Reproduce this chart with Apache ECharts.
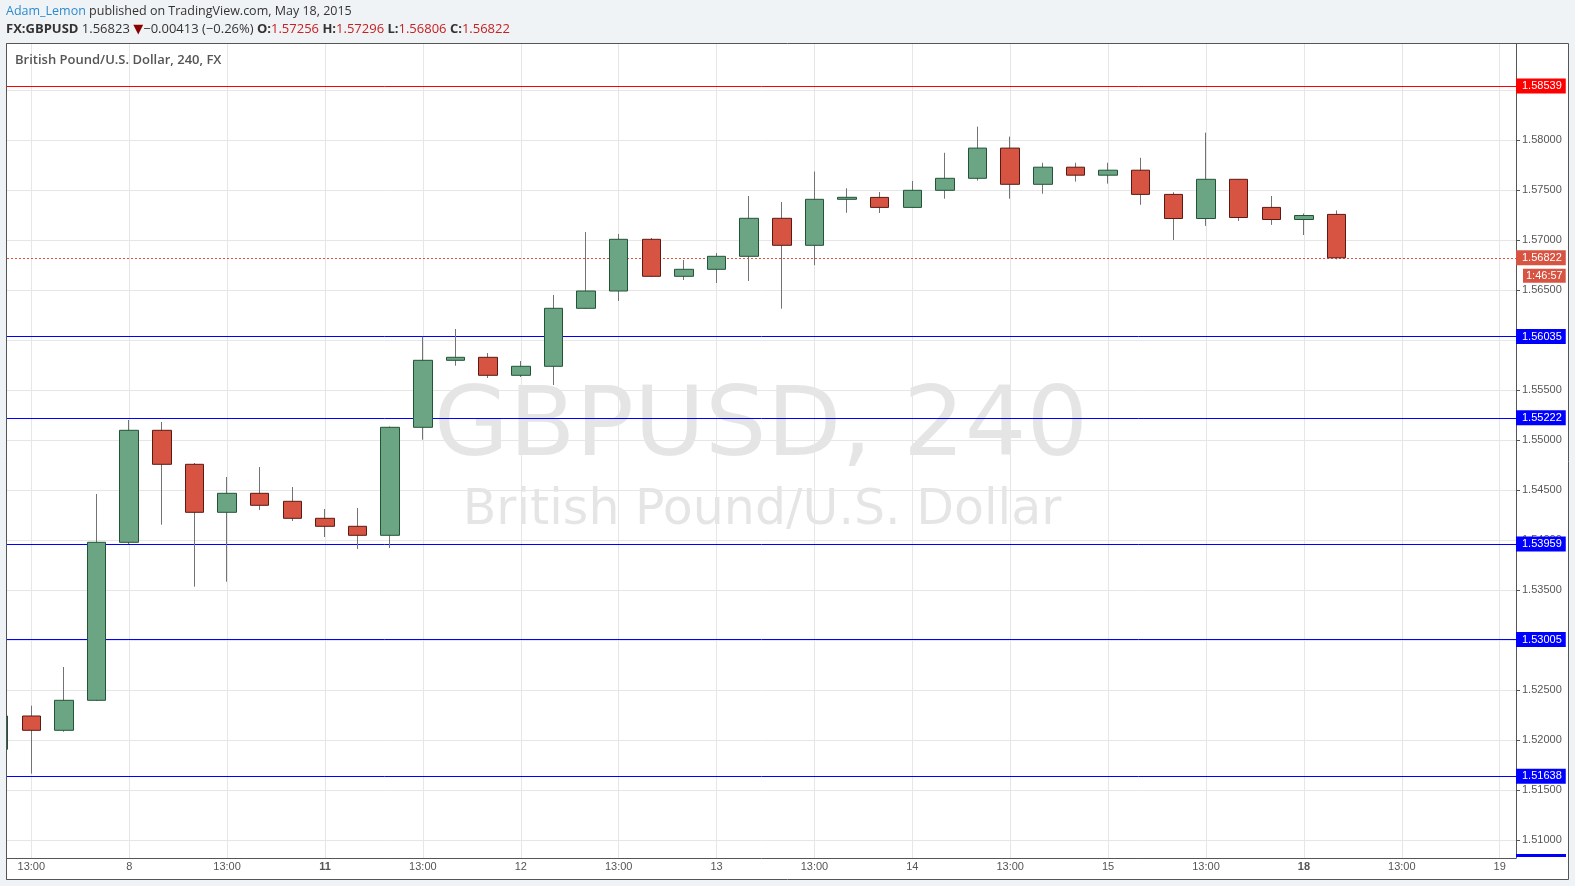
<!DOCTYPE html>
<html>
<head>
<meta charset="utf-8">
<script src="https://cdn.jsdelivr.net/npm/echarts@6/dist/echarts.min.js"></script>
<style>
html,body{margin:0;padding:0;background:#f0f3f6;}
#c{width:1575px;height:886px;}
</style>
</head>
<body>
<div id="c"></div>
<script>
// ---- DATA (4-hour bars, FX:GBPUSD) ----
const times = [
  '2015-05-07 09:00','2015-05-07 13:00','2015-05-07 17:00','2015-05-07 21:00',
  '2015-05-08 01:00','2015-05-08 05:00','2015-05-08 09:00','2015-05-08 13:00','2015-05-08 17:00','2015-05-08 21:00',
  '2015-05-11 01:00','2015-05-11 05:00','2015-05-11 09:00','2015-05-11 13:00','2015-05-11 17:00','2015-05-11 21:00',
  '2015-05-12 01:00','2015-05-12 05:00','2015-05-12 09:00','2015-05-12 13:00','2015-05-12 17:00','2015-05-12 21:00',
  '2015-05-13 01:00','2015-05-13 05:00','2015-05-13 09:00','2015-05-13 13:00','2015-05-13 17:00','2015-05-13 21:00',
  '2015-05-14 01:00','2015-05-14 05:00','2015-05-14 09:00','2015-05-14 13:00','2015-05-14 17:00','2015-05-14 21:00',
  '2015-05-15 01:00','2015-05-15 05:00','2015-05-15 09:00','2015-05-15 13:00','2015-05-15 17:00','2015-05-15 21:00',
  '2015-05-18 01:00','2015-05-18 05:00'
];
const open = [
  1.51907,1.52240,1.52097,1.52397,
  1.53977,1.55097,1.54757,1.54277,1.54467,1.54387,
  1.54217,1.54137,1.54047,1.55127,1.55797,1.55827,
  1.55647,1.55737,1.56317,1.56490,1.57007,1.56637,
  1.56707,1.56837,1.57217,1.56947,1.57407,1.57426,
  1.57326,1.57497,1.57617,1.57919,1.57557,1.57728,
  1.57648,1.57698,1.57456,1.57215,1.57607,1.57326,
  1.57205,1.57256
];
const close = [
  1.52240,1.52097,1.52397,1.53977,
  1.55097,1.54757,1.54277,1.54467,1.54347,1.54217,
  1.54137,1.54047,1.55127,1.55797,1.55827,1.55647,
  1.55737,1.56317,1.56490,1.57007,1.56637,1.56707,
  1.56837,1.57217,1.56947,1.57407,1.57427,1.57326,
  1.57497,1.57617,1.57919,1.57557,1.57728,1.57648,
  1.57698,1.57456,1.57215,1.57607,1.57225,1.57205,
  1.57245,1.56822
];
const low = [
  1.51880,1.51663,1.52083,1.52390,
  1.53960,1.54153,1.53533,1.53583,1.54300,1.54190,
  1.54030,1.53910,1.53920,1.55003,1.55743,1.55620,
  1.55630,1.55550,1.56310,1.56390,1.56630,1.56600,
  1.56570,1.56590,1.56313,1.56748,1.57272,1.57270,
  1.57320,1.57413,1.57594,1.57413,1.57463,1.57584,
  1.57564,1.57352,1.57000,1.57141,1.57191,1.57151,
  1.57050,1.56806
];
const high = [
  1.52290,1.52343,1.52730,1.54460,
  1.55200,1.55180,1.54770,1.54630,1.54730,1.54530,
  1.54310,1.54320,1.55135,1.56033,1.56110,1.55870,
  1.55790,1.56450,1.57080,1.57060,1.57020,1.56800,
  1.56870,1.57440,1.57380,1.57685,1.57517,1.57480,
  1.57590,1.57872,1.58134,1.58034,1.57772,1.57772,
  1.57772,1.57822,1.57477,1.58074,1.57610,1.57440,
  1.57265,1.57296
];
const priceTicks = [1.51,1.515,1.52,1.525,1.53,1.535,1.54,1.545,1.55,1.555,1.56,1.565,1.57,1.575,1.58,1.585];
const timeTickIndex = [1,4,7,10,13,16,19,22,25,28,31,34,37,40,43,46];
const timeTickLabels = ['13:00','8','13:00','11','13:00','12','13:00','13','13:00','14','13:00','15','13:00','18','13:00','19'];
const weekStartLabels = ['11','18'];
const resistanceLevel = 1.58539;
const supportLevels = [1.56035, 1.55222, 1.53959, 1.53005, 1.51638];
const lastPrice = 1.56822;
const countdown = '1:46:57';

// ---- CHART ----
const chart = echarts.init(document.getElementById('c'), null, {renderer: 'canvas'});

const wickData = times.map((t, i) => [i, open[i], close[i], low[i], high[i]]);
const bodyData = times.map((t, i) => [i, open[i], close[i], Math.min(open[i], close[i]), Math.max(open[i], close[i])]);

const FONT = 'Liberation Sans, Arial, sans-serif';
const boxLabel = (bg) => ({
  show: true, position: 'end', distance: 0,
  formatter: p => Number(p.value).toFixed(5),
  color: '#fff', backgroundColor: bg, fontSize: 11, fontFamily: FONT,
  padding: [2, 4, 1, 6], lineHeight: 12
});

const levelLines = [
  {yAxis: resistanceLevel, lineStyle: {color: '#ff0000', width: 1, type: 'solid'}, label: boxLabel('#ff0000')}
].concat(supportLevels.map(v => ({
  yAxis: v, lineStyle: {color: '#0000ff', width: 1, type: 'solid'}, label: boxLabel('#0000ff')
}))).concat([
  {yAxis: lastPrice, lineStyle: {color: '#e2503c', width: 1, type: [2, 2]}, label: boxLabel('#d75442')},
  {yAxis: lastPrice, lineStyle: {color: 'rgba(0,0,0,0)', width: 1},
   label: {show: true, position: 'end', distance: 7,
     formatter: '{s|.}\n{b|' + countdown + '}',
     rich: {
       s: {height: 36, fontSize: 1, color: 'rgba(0,0,0,0)'},
       b: {backgroundColor: '#d75442', color: '#fff', fontSize: 11, padding: [2, 3, 1, 3], lineHeight: 12, fontFamily: FONT}
     }}}
]);

const option = {
  backgroundColor: '#f0f3f6',
  animation: false,
  textStyle: {fontFamily: FONT},
  grid: {left: 7, right: 59, top: 44, bottom: 28, containLabel: false},
  xAxis: {
    type: 'value', min: 0.2553, max: 46.5,
    axisLine: {show: true, lineStyle: {color: '#555', width: 1}},
    axisTick: {show: false, customValues: timeTickIndex},
    splitLine: {show: true, lineStyle: {color: '#e6e6e6', width: 1}},
    axisLabel: {
      customValues: timeTickIndex, margin: 3, fontSize: 11, color: '#555',
      formatter: v => {
        const s = timeTickLabels[timeTickIndex.indexOf(Math.round(v))];
        return weekStartLabels.includes(s) ? '{b|' + s + '}' : s;
      },
      rich: {b: {fontWeight: 'bold', fontSize: 11, color: '#555'}}
    }
  },
  yAxis: {
    type: 'value', position: 'right', min: 1.5082, max: 1.5896, scale: true,
    axisLine: {show: true, lineStyle: {color: '#555', width: 1}},
    axisTick: {show: true, length: 4, customValues: priceTicks, lineStyle: {color: '#555'}},
    splitLine: {show: true, lineStyle: {color: '#e6e6e6', width: 1}},
    axisLabel: {
      customValues: priceTicks, margin: 6, fontSize: 11, color: '#555',
      formatter: v => Number(v).toFixed(5)
    }
  },
  series: [
    {
      type: 'line', data: [], silent: true,
      markLine: {symbol: ['none', 'none'], precision: 5, silent: true, z: 1, animation: false, data: levelLines}
    },
    {
      type: 'candlestick', name: 'wick', data: wickData, barWidth: 0.001, silent: true, z: 2, clip: true,
      itemStyle: {color: '#737375', color0: '#737375', borderColor: '#737375', borderColor0: '#737375', borderWidth: 1}
    },
    {
      type: 'candlestick', name: 'GBPUSD', data: bodyData, barWidth: 19, z: 3, clip: true,
      itemStyle: {color: '#6ba583', color0: '#d75442', borderColor: '#225437', borderColor0: '#5b1a13', borderWidth: 1}
    }
  ],
  graphic: [
    {type: 'rect', z: -10, silent: true,
     shape: {x: 6.5, y: 43.5, width: 1562, height: 836},
     style: {fill: '#ffffff', stroke: '#555555', lineWidth: 1}},
    // mask for the part of the first bar that lies left of the plot frame
    {type: 'rect', z: 50, silent: true,
     shape: {x: 0, y: 44, width: 6, height: 835},
     style: {fill: '#f0f3f6'}},
    {type: 'line', z: 50, silent: true,
     shape: {x1: 6.5, y1: 43.5, x2: 6.5, y2: 879.5},
     style: {stroke: '#555555', lineWidth: 1}},
    {type: 'text', z: -9, silent: true, x: 761, y: 430,
     style: {text: 'GBPUSD, 240', font: '97px "DejaVu Sans"', fill: 'rgba(0,0,0,0.1)', textAlign: 'center', textVerticalAlign: 'middle'}},
    {type: 'text', z: -9, silent: true, x: 762, y: 511,
     style: {text: 'British Pound/U.S. Dollar', font: '49px "DejaVu Sans"', fill: 'rgba(0,0,0,0.1)', textAlign: 'center', textVerticalAlign: 'middle'}},
    {type: 'text', z: 10, silent: true, x: 15, y: 60.5,
     style: {text: 'British Pound/U.S. Dollar, 240, FX', font: '600 13px "Open Sans"', fill: '#555', textVerticalAlign: 'middle'}},
    {type: 'text', z: 10, silent: true, x: 6, y: 11.5,
     style: {text: '{u|Adam_Lemon} published on TradingView.com, May 18, 2015',
       font: '12.5px "Open Sans"', fill: '#333', textVerticalAlign: 'middle',
       rich: {u: {fill: '#2a8bd0', font: '12.5px "Open Sans"'}}}},
    {type: 'text', z: 10, silent: true, x: 6, y: 29.5,
     style: {text: '{b|FX:GBPUSD} 1.56823 {t|▼}\u22120.00413 (\u22120.26%) {b|O:}{r|1.57256} {b|H:}{r|1.57296} {b|L:}{r|1.56806} {b|C:}{r|1.56822}',
       font: '13px "Open Sans"', fill: '#333', textVerticalAlign: 'middle',
       rich: {
         b: {font: 'bold 13px "Open Sans"', fill: '#333'},
         t: {font: '13px "DejaVu Sans"', fill: '#8b0000'},
         r: {font: '13px "Open Sans"', fill: '#c62020'}
       }}},
    {type: 'rect', z: 10, silent: true,
     shape: {x: 1516, y: 854, width: 50, height: 3},
     style: {fill: '#0000ff'}}
  ]
};
chart.setOption(option);
</script>
</body>
</html>
